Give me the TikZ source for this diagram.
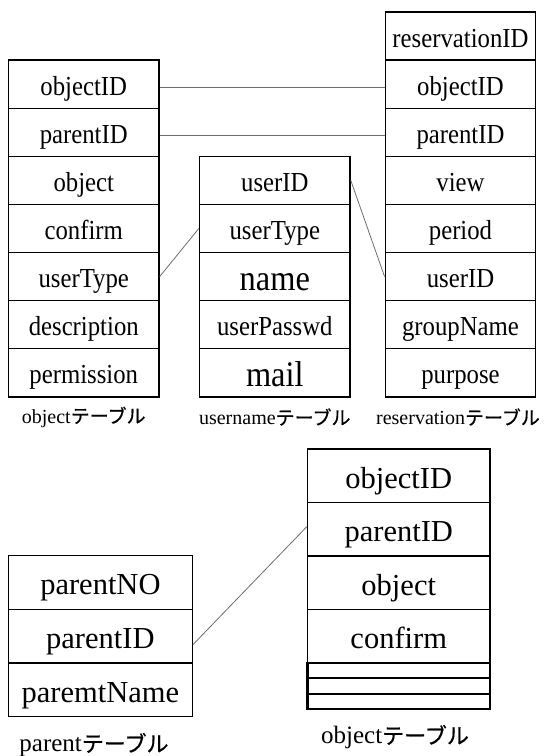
\documentclass[tikz,border=0pt]{standalone}
\usepackage{fontspec}
\setmainfont{Liberation Serif}
\newfontfamily\topfont[FakeStretch=0.9]{Liberation Serif}
\newfontfamily\jpfont[FakeBold=0.6]{Noto Sans CJK JP}
\definecolor{linkgray}{RGB}{110,110,110}
\begin{document}
\begin{tikzpicture}[x=1pt,y=-1pt,
  cell/.style={draw=black, line width=1.4pt, inner sep=0pt, minimum width=150.5pt, minimum height=48.1pt, text height=25pt, text depth=3pt, font=\topfont\fontsize{27.5}{30}\selectfont},
  big/.style={font=\topfont\fontsize{36}{40}\selectfont, text height=30pt, text depth=3pt},
  bcell/.style={draw=black, line width=1.4pt, inner sep=0pt, minimum width=182.5pt, minimum height=53.4pt, text height=28pt, text depth=3pt, font=\fontsize{30.5}{33}\selectfont},
  pcell/.style={bcell, minimum width=183.8pt, minimum height=53.7pt},
  thinrow/.style={draw=black, line width=2.2pt, inner sep=0pt, minimum width=182.5pt, minimum height=15.5pt},
  link/.style={draw=linkgray, line width=0.8pt},
  lbl/.style={inner sep=0pt}]
\fill[white] (0,0) rectangle (546,756);
\useasboundingbox (0,0) rectangle (546,756);
% object table (top left)
\node[cell] (lo1) at (83.75,84.15) {objectID};
\node[cell] (lo2) at (83.75,132.25) {parentID};
\node[cell] (lo3) at (83.75,180.35) {object};
\node[cell] (lo4) at (83.75,228.45) {confirm};
\node[cell] (lo5) at (83.75,276.55) {userType};
\node[cell] (lo6) at (83.75,324.65) {description};
\node[cell] (lo7) at (83.75,372.75) {permission};
\node[lbl] (llo) at (83.75,417) {\fontsize{20}{22}\selectfont object\jpfont\fontsize{19}{22}\selectfont テーブル};
% username table
\node[cell] (u1) at (274.8,180.35) {userID};
\node[cell] (u2) at (274.8,228.45) {userType};
\node[cell,big] (u3) at (274.8,276.55) {name};
\node[cell] (u4) at (274.8,324.65) {userPasswd};
\node[cell,big] (u5) at (274.8,372.75) {mail};
\node[lbl] (lu) at (274.8,417) {\fontsize{20}{22}\selectfont username\jpfont\fontsize{19}{22}\selectfont テーブル};
% reservation table
\node[cell] (r0) at (460.5,36.05) {reservationID};
\node[cell] (r1) at (460.5,84.15) {objectID};
\node[cell] (r2) at (460.5,132.25) {parentID};
\node[cell] (r3) at (460.5,180.35) {view};
\node[cell] (r4) at (460.5,228.45) {period};
\node[cell] (r5) at (460.5,276.55) {userID};
\node[cell] (r6) at (460.5,324.65) {groupName};
\node[cell] (r7) at (460.5,372.75) {purpose};
\node[lbl] (lr) at (458,417) {\fontsize{20}{22}\selectfont reservation\jpfont\fontsize{19}{22}\selectfont テーブル};
% top connectors
\draw[link] ([yshift=-3.5pt]lo1.east) -- ([yshift=-3.5pt]r1.west);
\draw[link] ([yshift=-3.5pt]lo2.east) -- ([yshift=-3.5pt]r2.west);
\draw[link] (lo5.east) -- (u2.west);
\draw[link] (u1.east) -- (r5.west);
% object table (bottom)
\node[bcell] (o1) at (398.75,475.75) {objectID};
\node[bcell] (o2) at (398.75,529.15) {parentID};
\node[bcell] (o3) at (398.75,582.55) {object};
\node[bcell] (o4) at (398.75,635.95) {confirm};
\node[thinrow] (o5) at (398.75,670.4) {};
\node[thinrow] (o6) at (398.75,685.9) {};
\node[thinrow] (o7) at (398.75,701.4) {};
\node[lbl] (lo) at (395,737) {\fontsize{25}{28}\selectfont object\jpfont\fontsize{22}{26}\selectfont テーブル};
% parent table
\node[pcell] (p1) at (100.4,582.4) {parentNO};
\node[pcell] (p2) at (100.4,636.1) {parentID};
\node[pcell] (p3) at (100.4,689.8) {paremtName};
\node[lbl] (lp) at (94,745) {\fontsize{25}{28}\selectfont parent\jpfont\fontsize{22}{26}\selectfont テーブル};
% bottom connector
\draw[link] ([yshift=-8.5pt]p2.east) -- ([yshift=2.5pt]o2.west);
\end{tikzpicture}
\end{document}
